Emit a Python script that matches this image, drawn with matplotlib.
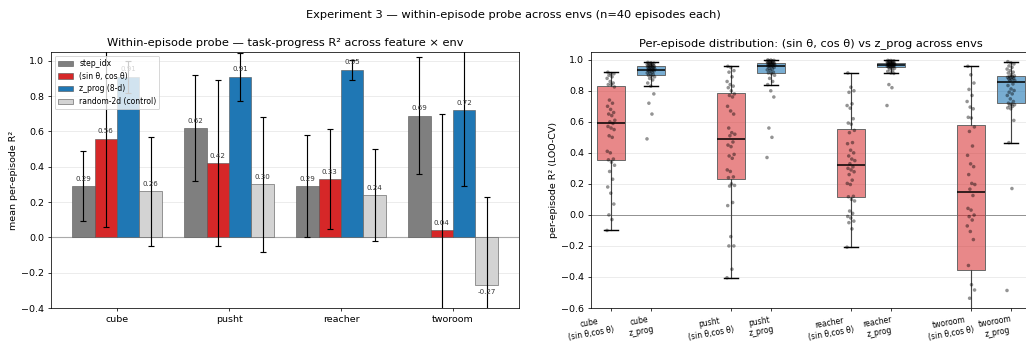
import numpy as np
import matplotlib
matplotlib.use("Agg")
import matplotlib.pyplot as plt

# ---- left panel: mean per-episode R^2 (+/- std) per feature and env ----
envs = ["cube", "pusht", "reacher", "tworoom"]
features = ["step_idx", "(sin θ, cos θ)", "z_prog (8-d)", "random-2d (control)"]
step_mean = [0.29, 0.62, 0.29, 0.69]
step_std = [0.20, 0.30, 0.29, 0.33]
sincos_mean = [0.56, 0.42, 0.33, 0.04]
sincos_std = [0.50, 0.47, 0.285, 0.66]
zprog_mean = [0.91, 0.91, 0.95, 0.72]
zprog_std = [0.09, 0.135, 0.057, 0.43]
rand_mean = [0.26, 0.30, 0.24, -0.27]
rand_std = [0.31, 0.38, 0.26, 0.50]

# ---- right panel: per-episode LOO-CV R^2 (40 episodes per env) ----
cube_sincos = [-0.10, -0.03, 0.00, 0.07, 0.14, 0.18, 0.23, 0.28, 0.32, 0.34,
               0.355, 0.36, 0.40, 0.41, 0.50, 0.51, 0.55, 0.56, 0.57, 0.59,
               0.60, 0.61, 0.64, 0.65, 0.66, 0.68, 0.70, 0.72, 0.74, 0.825,
               0.84, 0.84, 0.85, 0.86, 0.88, 0.89, 0.90, 0.91, 0.91, 0.92]
cube_zprog = [0.49, 0.65, 0.72, 0.78, 0.83, 0.85, 0.87, 0.88, 0.89, 0.895,
              0.90, 0.905, 0.91, 0.915, 0.92, 0.925, 0.928, 0.93, 0.932, 0.935,
              0.937, 0.94, 0.942, 0.945, 0.948, 0.95, 0.952, 0.954, 0.956, 0.957,
              0.961, 0.963, 0.965, 0.967, 0.97, 0.972, 0.975, 0.977, 0.98, 0.983]
pusht_sincos = [-0.405, -0.35, -0.20, -0.20, -0.14, 0.06, 0.08, 0.186, 0.19, 0.20,
                0.24, 0.245, 0.28, 0.29, 0.365, 0.38, 0.39, 0.44, 0.45, 0.47,
                0.51, 0.52, 0.53, 0.56, 0.65, 0.67, 0.70, 0.76, 0.77, 0.78,
                0.80, 0.82, 0.83, 0.84, 0.86, 0.89, 0.92, 0.93, 0.95, 0.958]
pusht_zprog = [0.37, 0.50, 0.56, 0.76, 0.80, 0.84, 0.86, 0.88, 0.90, 0.91,
               0.915, 0.92, 0.93, 0.935, 0.94, 0.945, 0.95, 0.955, 0.958, 0.96,
               0.964, 0.966, 0.968, 0.97, 0.972, 0.974, 0.975, 0.976, 0.977, 0.978,
               0.982, 0.984, 0.986, 0.988, 0.99, 0.992, 0.994, 0.996, 0.998, 0.999]
reacher_sincos = [-0.208, -0.09, -0.05, -0.04, -0.02, -0.01, 0.01, 0.025, 0.09, 0.10,
                  0.117, 0.12, 0.196, 0.203, 0.224, 0.26, 0.278, 0.29, 0.30, 0.31,
                  0.33, 0.35, 0.36, 0.38, 0.40, 0.417, 0.459, 0.466, 0.53, 0.545,
                  0.585, 0.592, 0.62, 0.688, 0.705, 0.716, 0.79, 0.80, 0.823, 0.915]
reacher_zprog = [0.705, 0.82, 0.84, 0.912, 0.915, 0.925, 0.93, 0.94, 0.945, 0.948,
                 0.952, 0.955, 0.957, 0.959, 0.96, 0.962, 0.963, 0.964, 0.965, 0.966,
                 0.968, 0.969, 0.97, 0.971, 0.972, 0.973, 0.974, 0.975, 0.976, 0.978,
                 0.98, 0.981, 0.983, 0.985, 0.987, 0.989, 0.991, 0.993, 0.995, 0.996]
tworoom_sincos = [-1.65, -1.30, -1.10, -0.90, -0.80, -0.70, -0.65, -0.537, -0.484, -0.45,
                  -0.326, -0.159, -0.107, -0.071, -0.033, -0.011, -0.001, 0.031, 0.042, 0.125,
                  0.166, 0.196, 0.203, 0.26, 0.311, 0.329, 0.384, 0.444, 0.538, 0.567,
                  0.625, 0.629, 0.684, 0.695, 0.731, 0.770, 0.809, 0.85, 0.903, 0.958]
tworoom_zprog = [-0.487, 0.17, 0.466, 0.609, 0.684, 0.69, 0.70, 0.705, 0.71, 0.715,
                 0.72, 0.731, 0.748, 0.77, 0.78, 0.791, 0.802, 0.812, 0.834, 0.844,
                 0.866, 0.866, 0.872, 0.876, 0.881, 0.885, 0.887, 0.89, 0.893, 0.896,
                 0.905, 0.915, 0.92, 0.93, 0.94, 0.951, 0.96, 0.973, 0.98, 0.988]

box_data = [cube_sincos, cube_zprog, pusht_sincos, pusht_zprog,
            reacher_sincos, reacher_zprog, tworoom_sincos, tworoom_zprog]
box_labels = ["cube\n(sin θ,cos θ)", "cube\nz_prog",
              "pusht\n(sin θ,cos θ)", "pusht\nz_prog",
              "reacher\n(sin θ,cos θ)", "reacher\nz_prog",
              "tworoom\n(sin θ,cos θ)", "tworoom\nz_prog"]

plt.rcParams["font.family"] = ["DejaVu Sans"]
plt.rcParams["font.size"] = 10

DPI = 68.4
fig = plt.figure(figsize=(1026 / DPI, 345 / DPI), dpi=DPI)
W, H = 1026.0, 345.0
ax1 = fig.add_axes([51 / W, 1 - 308 / H, (519 - 51) / W, (308 - 52) / H])
ax2 = fig.add_axes([591 / W, 1 - 308 / H, (1031 - 591) / W, (308 - 52) / H])

fig.suptitle("Experiment 3 — within-episode probe across envs (n=40 episodes each)",
             y=1 - 15 / H, va="center", fontsize=12)

# ---- grouped bars ----
x = np.arange(len(envs))
width = 0.2
series = [(step_mean, step_std, "#7f7f7f"),
          (sincos_mean, sincos_std, "#d62728"),
          (zprog_mean, zprog_std, "#1f77b4"),
          (rand_mean, rand_std, "#d3d3d3")]
ax1.set_axisbelow(True)
ax1.yaxis.grid(True, color="#e6e6e6", lw=0.8)
for k, ((m, s, c), name) in enumerate(zip(series, features)):
    xs = x + (k - 1.5) * width
    ax1.bar(xs, m, width, color=c, edgecolor="#555555", linewidth=0.6,
            label=name, zorder=2)
    ax1.errorbar(xs, m, yerr=s, fmt="none", ecolor="black", elinewidth=1.2,
                 capsize=3, capthick=1.2, zorder=3)
    for xi, mi in zip(xs, m):
        if mi >= 0:
            ax1.text(xi, mi + 0.025, f"{mi:.2f}", ha="center", va="bottom",
                     fontsize=7.5, color="#333333", zorder=4)
        else:
            ax1.text(xi, mi - 0.025, f"{mi:.2f}", ha="center", va="top",
                     fontsize=7.5, color="#333333", zorder=4)
ax1.axhline(0, color="#aaaaaa", lw=1.2, zorder=1)
ax1.set_xticks(x)
ax1.set_xticklabels(envs)
ax1.set_ylim(-0.4, 1.05)
ax1.set_ylabel("mean per-episode R²")
ax1.set_title("Within-episode probe — task-progress R² across feature × env",
              fontsize=12)
ax1.legend(loc="upper left", fontsize=8)

# ---- box + strip plot ----
positions = [0, 1, 3, 4, 6, 7, 9, 10]
ax2.set_axisbelow(True)
ax2.yaxis.grid(True, color="#e6e6e6", lw=0.8)
bp = ax2.boxplot(box_data, positions=positions, widths=0.7, patch_artist=True,
                 showfliers=False,
                 medianprops=dict(color="black", lw=1.6),
                 whiskerprops=dict(color="#444444", lw=1.2),
                 capprops=dict(color="black", lw=1.5),
                 boxprops=dict(edgecolor="#666666", lw=1.0))
for i, patch in enumerate(bp["boxes"]):
    if i % 2 == 0:
        patch.set_facecolor((214 / 255, 39 / 255, 40 / 255, 0.55))
    else:
        patch.set_facecolor((31 / 255, 119 / 255, 180 / 255, 0.6))
for p, vals in zip(positions, box_data):
    v = np.asarray(vals)
    off = ((np.arange(len(v)) * 0.61803398875) % 1.0 - 0.5) * 0.2
    ax2.scatter(p + off, v, s=14, color="black", alpha=0.42,
                edgecolors="none", zorder=3)
ax2.axhline(0, color="#777777", lw=0.8, zorder=1)
ax2.set_xlim(-0.5, 10.5)
ax2.set_ylim(-0.6, 1.05)
ax2.set_xticks(positions)
ax2.set_xticklabels(box_labels, rotation=10, ha="right",
                    rotation_mode="anchor", fontsize=8, multialignment="center")
ax2.set_ylabel("per-episode R² (LOO-CV)")
ax2.set_title("Per-episode distribution: (sin θ, cos θ) vs z_prog across envs",
              fontsize=12)

fig.savefig("out.png", dpi=DPI)
